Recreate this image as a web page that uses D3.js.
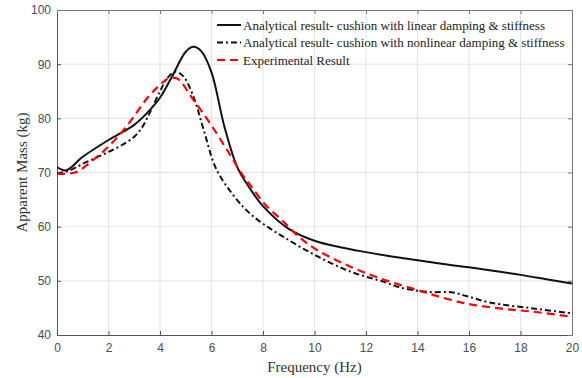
<!DOCTYPE html>
<html>
<head>
<meta charset="utf-8">
<script src="https://cdn.jsdelivr.net/npm/d3@7"></script>
<style>
  body { margin: 0; background: #fff; }
  .tick text { font-family: "Liberation Sans", Arial, sans-serif; font-size: 12px; fill: #4d4d4d; }
</style>
</head>
<body>
<div class="chart"></div>
<script>
// Values
const xTicks = [0, 2, 4, 6, 8, 10, 12, 14, 16, 18, 20];
const yTicks = [40, 50, 60, 70, 80, 90, 100];

const linearFreq = [0, 0.35, 1, 2, 3, 3.5, 4, 4.5, 5, 5.3, 5.6, 6, 6.5, 7, 7.5, 8, 9, 10, 11, 12, 13, 14, 15, 16, 17, 18, 19, 20];
const linearMass = [71, 70.4, 72.9, 76, 78.8, 81, 83.8, 88, 92.3, 93.2, 92.4, 88.5, 78.5, 71, 67, 63.8, 59.6, 57.4, 56.2, 55.3, 54.5, 53.8, 53.1, 52.5, 51.8, 51.1, 50.3, 49.5];

const nonlinFreq = [0, 0.5, 1, 1.5, 2, 2.5, 3, 3.3, 3.6, 4, 4.3, 4.6, 4.9, 5.3, 5.7, 6.2, 7, 7.5, 8.1, 8.8, 10, 11.4, 12.7, 13.3, 14.1, 14.6, 15.3, 15.9, 16.8, 18.5, 20];
const nonlinMass = [69.8, 70.4, 71.6, 72.7, 73.8, 75.0, 76.6, 78.3, 81.0, 85.0, 87.5, 88.6, 87.8, 84, 77.8, 70.5, 64.9, 62.4, 60.2, 58.1, 54.8, 51.7, 49.8, 48.8, 48.1, 47.9, 47.9, 47.2, 46.0, 44.9, 44.0];

const expFreq = [0, 0.7, 1.4, 2, 2.7, 3.5, 4, 4.3, 4.65, 5.3, 5.94, 6.6, 7.2, 7.5, 8.1, 8.8, 9.4, 10.1, 11.4, 12.7, 14, 14.6, 15.9, 17.2, 18.5, 19.8, 20];
const expMass = [69.8, 70.0, 72.3, 74.8, 78.5, 83.7, 86.2, 87.3, 87.4, 83.4, 79.1, 74.2, 69.6, 67.7, 64.0, 60.9, 58.1, 55.7, 52.6, 50.2, 48.3, 47.4, 45.8, 44.9, 44.3, 43.5, 43.4];

const legendLabels = [
  "Analytical result- cushion with linear damping & stiffness",
  "Analytical result- cushion with nonlinear damping & stiffness",
  "Experimental Result"
];

/* Dimensions */
const width = 582, height = 378;
const margin = { top: 10, right: 10, bottom: 43, left: 57 };

const xScale = d3.scaleLinear().domain([0, 20]).range([margin.left, width - margin.right]);
const yScale = d3.scaleLinear().domain([40, 100]).range([height - margin.bottom, margin.top]);

const svg = d3.select(".chart").append("svg")
  .attr("width", width)
  .attr("height", height);

// grid
svg.append("g")
  .selectAll("line.gx")
  .data(xTicks.slice(1, -1))
  .enter().append("line")
  .attr("x1", d => xScale(d)).attr("x2", d => xScale(d))
  .attr("y1", yScale(40)).attr("y2", yScale(100))
  .attr("stroke", "#e3e3e3").attr("stroke-width", 1);
svg.append("g")
  .selectAll("line.gy")
  .data(yTicks.slice(1, -1))
  .enter().append("line")
  .attr("x1", xScale(0)).attr("x2", xScale(20))
  .attr("y1", d => yScale(d)).attr("y2", d => yScale(d))
  .attr("stroke", "#e3e3e3").attr("stroke-width", 1);

/* Axes */
const axisColor = "#555";
svg.append("g")
  .attr("transform", `translate(0,${yScale(40)})`)
  .call(d3.axisBottom(xScale).tickValues(xTicks).tickSize(-4).tickPadding(8).tickSizeOuter(0))
  .call(g => g.select(".domain").attr("stroke", axisColor))
  .call(g => g.selectAll(".tick line").attr("stroke", axisColor));
svg.append("g")
  .attr("transform", `translate(${xScale(0)},0)`)
  .call(d3.axisLeft(yScale).tickValues(yTicks).tickSize(-4).tickPadding(6).tickSizeOuter(0))
  .call(g => g.select(".domain").attr("stroke", axisColor))
  .call(g => g.selectAll(".tick line").attr("stroke", axisColor));
// top/right box with inward ticks
svg.append("g")
  .attr("transform", `translate(0,${yScale(100)})`)
  .call(d3.axisTop(xScale).tickValues(xTicks).tickSize(-4).tickFormat("").tickSizeOuter(0))
  .call(g => g.select(".domain").attr("stroke", "#777"))
  .call(g => g.selectAll(".tick line").attr("stroke", "#777"));
svg.append("g")
  .attr("transform", `translate(${xScale(20)},0)`)
  .call(d3.axisRight(yScale).tickValues(yTicks).tickSize(-4).tickFormat("").tickSizeOuter(0))
  .call(g => g.select(".domain").attr("stroke", "#777"))
  .call(g => g.selectAll(".tick line").attr("stroke", "#777"));

// axis labels
svg.append("text")
  .attr("x", (xScale(0) + xScale(20)) / 2)
  .attr("y", height - 6)
  .attr("text-anchor", "middle")
  .style("font-family", "'Liberation Serif', 'Times New Roman', serif")
  .style("font-size", "15px")
  .style("fill", "#333")
  .text("Frequency (Hz)");
svg.append("text")
  .attr("x", -(yScale(40) + yScale(100)) / 2)
  .attr("y", 27)
  .attr("text-anchor", "middle")
  .attr("transform", "rotate(-90)")
  .style("font-family", "'Liberation Serif', 'Times New Roman', serif")
  .style("font-size", "15px")
  .style("fill", "#333")
  .text("Apparent Mass (kg)");

/* Lines */
const line = d3.line()
  .x(d => xScale(d[0]))
  .y(d => yScale(d[1]))
  .curve(d3.curveCatmullRom.alpha(0.5));

const series = [
  { f: linearFreq, m: linearMass, color: "#111", dash: null, w: 2 },
  { f: nonlinFreq, m: nonlinMass, color: "#111", dash: "6,3,2,3", w: 2 },
  { f: expFreq, m: expMass, color: "#f00", dash: "8,5", w: 2.2 }
];

svg.append("clipPath").attr("id", "clip")
  .append("rect")
  .attr("x", xScale(0)).attr("y", yScale(100))
  .attr("width", xScale(20) - xScale(0)).attr("height", yScale(40) - yScale(100));

series.forEach(s => {
  svg.append("path")
    .datum(s.f.map((f, i) => [f, s.m[i]]))
    .attr("clip-path", "url(#clip)")
    .attr("fill", "none")
    .attr("stroke", s.color)
    .attr("stroke-width", s.w)
    .attr("stroke-dasharray", s.dash)
    .attr("d", line);
});

/* Legend */
const legend = svg.append("g").attr("transform", "translate(217,25)");
series.forEach((s, i) => {
  const row = legend.append("g").attr("transform", `translate(0,${i * 17.5})`);
  row.append("line")
    .attr("x1", 0).attr("x2", 24).attr("y1", 0).attr("y2", 0)
    .attr("stroke", s.color)
    .attr("stroke-width", s.w)
    .attr("stroke-dasharray", s.dash);
  row.append("text")
    .attr("x", 26).attr("y", 4.5)
    .style("font-family", "'Liberation Serif', 'Times New Roman', serif")
    .style("font-size", "13px")
    .style("fill", "#222")
    .text(legendLabels[i]);
});
</script>
</body>
</html>
